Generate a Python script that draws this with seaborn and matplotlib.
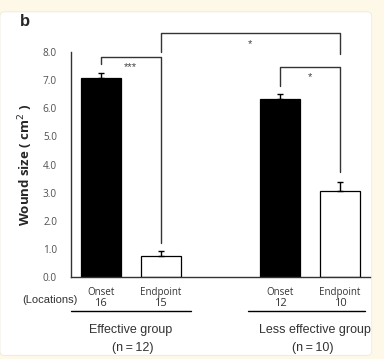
import matplotlib
matplotlib.use("Agg")
import matplotlib.pyplot as plt
import seaborn as sns
import pandas as pd
from matplotlib.patches import FancyBboxPatch
import matplotlib.transforms as mtransforms

# ---- data ----
categories = ["Effective Onset", "Effective Endpoint", "gap", "Less Onset", "Less Endpoint"]
bar_categories = ["Effective Onset", "Effective Endpoint", "Less Onset", "Less Endpoint"]
wound_size = [7.08, 0.75, 6.32, 3.07]
sem = [0.17, 0.16, 0.18, 0.30]
bar_colors = ["black", "white", "black", "white"]
phase_labels = ["Onset", "Endpoint", "Onset", "Endpoint"]
locations = ["16", "15", "12", "10"]
yticks = [0.0, 1.0, 2.0, 3.0, 4.0, 5.0, 6.0, 7.0, 8.0]
group_names = ["Effective group", "Less effective group"]
group_n = ["(n\u2009=\u200912)", "(n\u2009=\u200910)"]

sns.set_style("white")
plt.rcParams["font.family"] = ["Liberation Sans", "DejaVu Sans"]

fig = plt.figure(figsize=(3.84, 3.59), dpi=100)
fig.patch.set_facecolor("#fdf8e7")
panel = FancyBboxPatch((0.0, 0.01), 0.968, 0.957, boxstyle="round,pad=0,rounding_size=0.012",
                       transform=fig.transFigure, facecolor="white", edgecolor="#eeeadb",
                       linewidth=0.6, zorder=-5)
fig.patches.append(panel)

ax = fig.add_axes([0.1849, 0.2284, 0.7786, 0.6267])
ax.set_facecolor("none")

df = pd.DataFrame({"cat": bar_categories, "val": wound_size})
sns.barplot(data=df, x="cat", y="val", order=categories, hue="cat",
            palette=dict(zip(bar_categories, bar_colors)), hue_order=bar_categories,
            edgecolor="black", linewidth=0.9, width=0.67, legend=False, ax=ax, errorbar=None)

xpos = [categories.index(c) for c in bar_categories]
ax.errorbar(xpos, wound_size, yerr=[[0] * 4, sem], fmt="none", ecolor="black",
            elinewidth=1.0, capsize=2.5, capthick=1.0, zorder=3)

ax.set_xlim(-0.5, 4.5)
ax.set_ylim(0, 8)
ax.set_yticks(yticks)
ax.set_yticklabels([f"{v:.1f}" for v in yticks], fontsize=7.2, color="#505050",
                   family=["Open Sans", "DejaVu Sans"])
ax.set_xticks([-0.5, 0.5, 1.5, 2.5, 3.5, 4.5])
ax.set_xticklabels([])
ax.set_xlabel("")
ax.tick_params(axis="both", direction="out", length=3, width=0.9, color="#333333")
ax.tick_params(axis="y", pad=7)
for s in ["top", "right"]:
    ax.spines[s].set_visible(False)
for s in ["left", "bottom"]:
    ax.spines[s].set_color("#333333")
    ax.spines[s].set_linewidth(1.0)
ax.set_ylabel("Wound size ( cm$^2$ )", fontsize=9.5, fontweight="bold", labelpad=6,
              family=["Open Sans", "DejaVu Sans"])

# brackets
lc = "#333333"
lw = 1.0
ax.plot([0, 0, 1, 1], [7.57, 7.82, 7.82, 1.21], color=lc, lw=lw, clip_on=False)
ax.plot([1, 1, 4, 4], [8.0, 8.68, 8.68, 7.93], color=lc, lw=lw, clip_on=False)
ax.plot([3, 3, 4, 4], [6.79, 7.47, 7.47, 3.73], color=lc, lw=lw, clip_on=False)
ax.text(0.5, 7.45, "***", ha="center", va="center", fontsize=8, color="#444444")
ax.text(2.5, 8.27, "*", ha="center", va="center", fontsize=8, color="#444444")
ax.text(3.5, 7.1, "*", ha="center", va="center", fontsize=8, color="#444444")

# labels below axis
trans = mtransforms.blended_transform_factory(ax.transData, ax.transAxes)
for x, ph, loc in zip(xpos, phase_labels, locations):
    ax.text(x, -0.067, ph, transform=trans, ha="center", va="center", fontsize=7,
            color="#333333", family=["Open Sans", "DejaVu Sans"])
    ax.text(x, -0.117, loc, transform=trans, ha="center", va="center", fontsize=8,
            color="#333333", family=["Open Sans", "DejaVu Sans"])
ax.text(-0.07, -0.102, "(Locations)", transform=ax.transAxes, ha="center", va="center",
        fontsize=8, color="#333333")
ax.plot([-0.5, 1.5], [-0.151, -0.151], transform=trans, color="black", lw=1.0, clip_on=False)
ax.plot([2.46, 4.42], [-0.151, -0.151], transform=trans, color="black", lw=1.0, clip_on=False)
ax.text(0.5, -0.236, group_names[0], transform=trans, ha="center", va="center",
        fontsize=9, color="#333333")
ax.text(0.54, -0.316, group_n[0], transform=trans, ha="center", va="center",
        fontsize=9, color="#333333")
ax.text(3.58, -0.236, group_names[1], transform=trans, ha="center", va="center",
        fontsize=9, color="#333333")
ax.text(3.54, -0.316, group_n[1], transform=trans, ha="center", va="center",
        fontsize=9, color="#333333")

fig.text(20 / 384, 1 - 22 / 359, "b", fontsize=12, fontweight="bold", ha="left", va="center")

fig.savefig("out.png", dpi=100, facecolor=fig.get_facecolor())
